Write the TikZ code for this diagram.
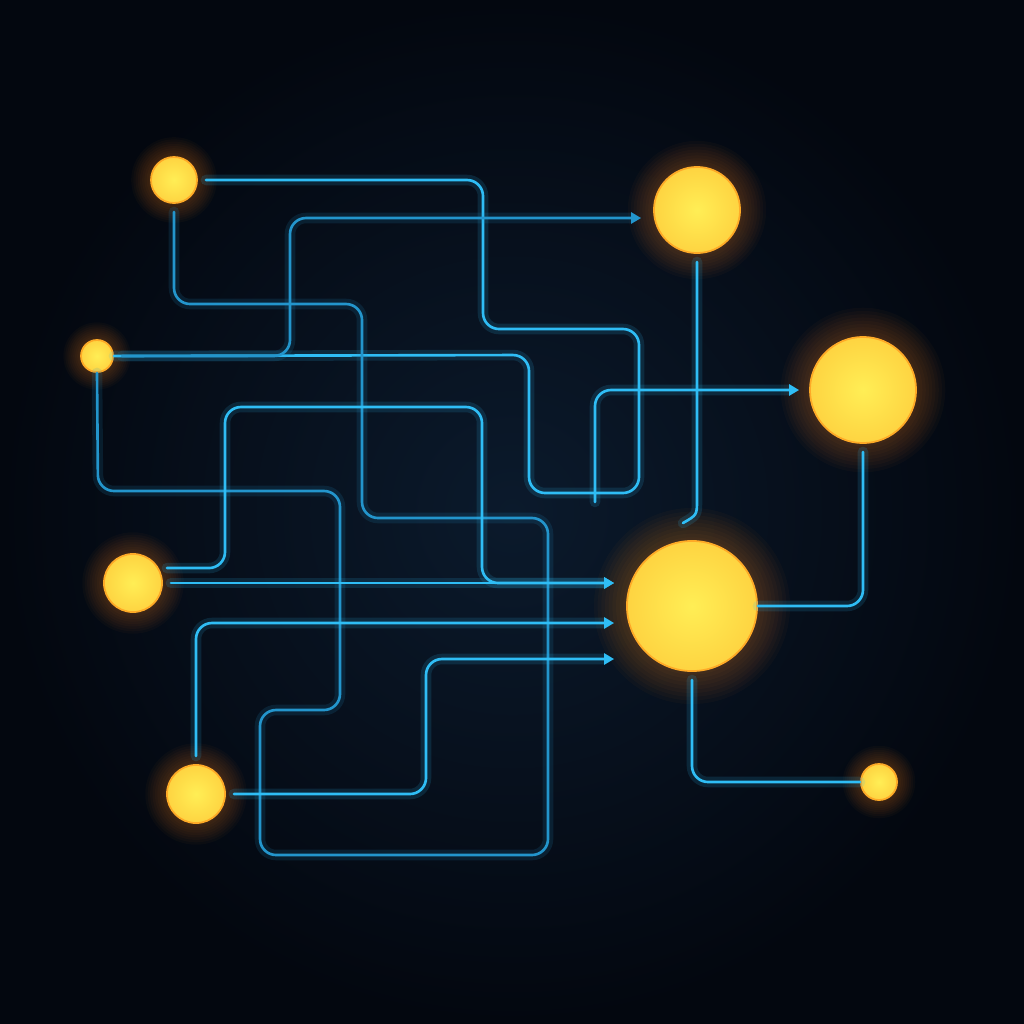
\documentclass[tikz,border=0pt]{standalone}
\usetikzlibrary{backgrounds,arrows.meta}
\definecolor{bgnavy}{HTML}{03070F}
\definecolor{bgmid}{HTML}{0B1A2C}
\definecolor{wireblue}{HTML}{2FBDF5}
\definecolor{wiremid}{HTML}{2395CC}
\definecolor{wiredim}{HTML}{1A78A8}
\definecolor{sunyellow}{HTML}{FFEE55}
\definecolor{sunorange}{HTML}{FDB52A}
\definecolor{glow}{HTML}{FF8A1C}
\pgfdeclareradialshading{sun}{\pgfpoint{0bp}{0bp}}{color(0bp)=(sunyellow); color(30bp)=(sunyellow!45!sunorange); color(50bp)=(sunorange)}
\tikzset{
  dot/.style={circle, inner sep=0pt, minimum size=#1*0.02cm, shading=sun, draw=sunorange!75!glow, line width=0.5pt},
  wire/.style={draw=#1, line width=0.75pt, rounded corners=0.16cm, shorten <=0.08cm,
    preaction={draw=#1, line width=3pt, opacity=0.14}},
  wire/.default=wireblue
}
\begin{document}
\begin{tikzpicture}[x=0.01cm, y=-0.01cm, >={Triangle[length=1mm,width=1.1mm]}, line cap=round]
  \useasboundingbox (0,0) rectangle (1024,1024);
  % circles
  \foreach \n/\x/\y/\r in {a/174/180/23, b/97/356/16, c/133/583/29, d/196/794/29,
      e/697/210/43, f/863/390/53, g/692/606/65, h/879/782/18}
    \node[dot=\r] (\n) at (\x,\y) {};
  \coordinate (p) at (595,510);
  \coordinate (q) at (683,523);
  % background and glow
  \begin{scope}[on background layer]
    \shade[inner color=bgmid, outer color=bgnavy] (0,0) rectangle (1024,1024);
    \foreach \n/\r in {a/23, b/16, c/29, d/29, e/43, f/53, g/65, h/18}
      \foreach \k in {1,...,9}
        \fill[glow, opacity=0.03] (\n) circle[radius={(\r+\k*(1.4+0.035*\r))*0.01cm}];
  \end{scope}
  % wires
  \draw[wire] (a.east) -| (483,329) -| (639,493) -| (529,355) -- (b.east);
  \draw[wire=wiremid] (a.south) |- (362,304) |- (548,518) |- (260,855) |- (340,710)
    |- (98,491) -- (b.south);
  \draw[wire=wiremid, ->, shorten >=0.12cm] (b.east) -| (290,218) -- ([shift={(0,8)}]e.west);
  \draw[wire, ->, shorten >=0.1cm] (p) |- (f.west);
  \draw[wire, sharp corners] (e.south) -- (e.south |- 0,500) .. controls (e.south |- 0,515) .. (q);
  \draw[wire] (f.south) |- (g.east);
  \draw[wire] (g.south) |- (h.west);
  \draw[wire, ->, shorten >=0.12cm] (c.east) -- (g.west |- c.east);
  \draw[wire, ->, shorten >=0.12cm] (c.30) -| (225,407) -| (482,583) -- (g.west |- c.east);
  \draw[wire, ->, shorten >=0.12cm] (d.north) |- ([shift={(0,17)}]g.west);
  \draw[wire, ->, shorten >=0.12cm] (d.east) -| (426,659) -- ([shift={(0,53)}]g.west);
\end{tikzpicture}
\end{document}
